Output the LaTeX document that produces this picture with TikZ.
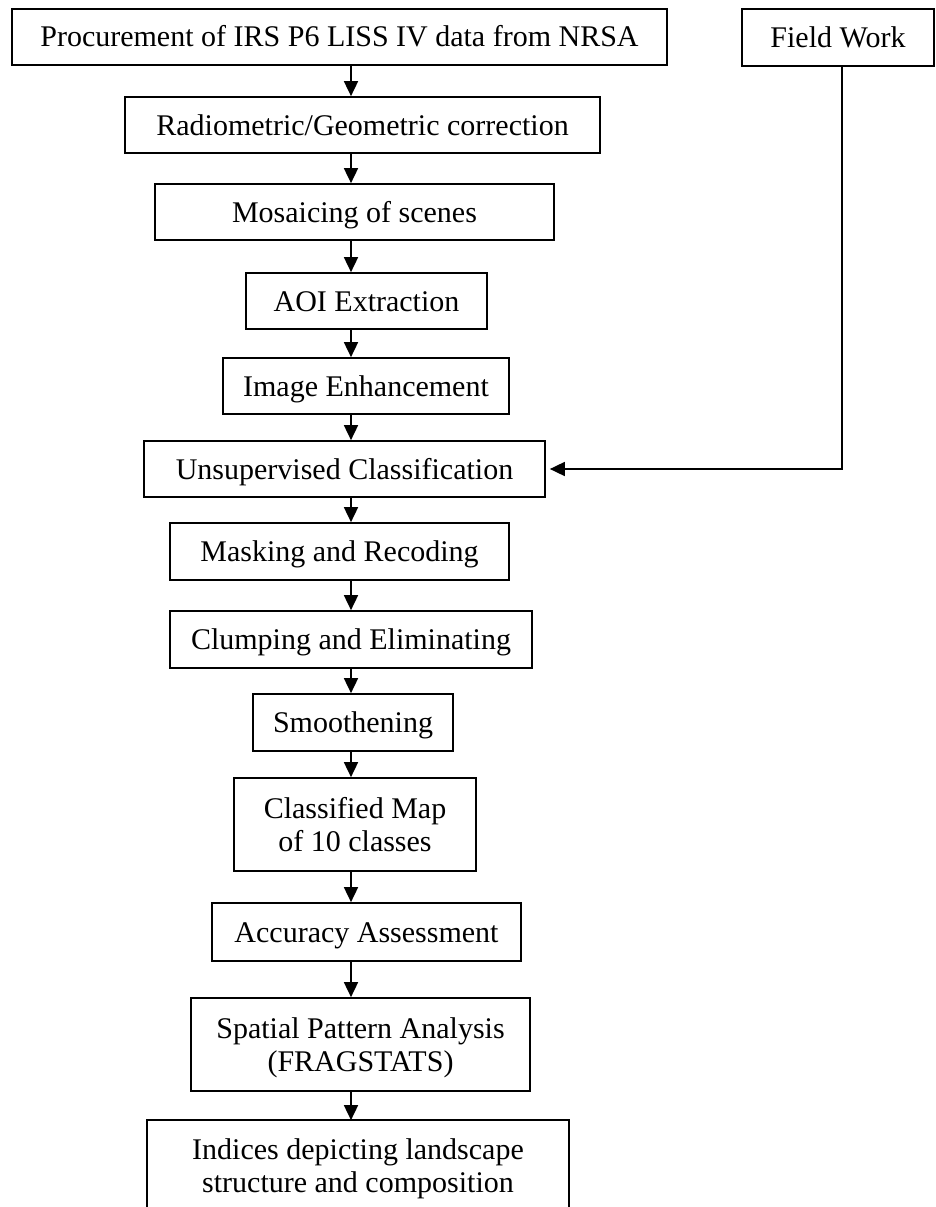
\documentclass[tikz,border=0pt]{standalone}
\usepackage{fontspec}
\setmainfont{Liberation Serif}
\usetikzlibrary{arrows.meta}
\begin{document}
\begin{tikzpicture}[x=1pt,y=-1pt,
  box/.style={draw, line width=1.7pt, inner sep=0pt, align=center, font=\fontsize{30}{33}\selectfont, text depth=0pt, text height=20pt},
  two/.style={text height=53pt},
  arr/.style={line width=1.7pt, -{Triangle[length=15pt,width=14pt]}}]
\useasboundingbox (0,0) rectangle (935,1207);
\node[box, minimum width=655pt, minimum height=56pt] (b1) at (339.5,37) {Procurement of IRS P6 LISS IV data from NRSA};
\node[box, minimum width=192pt, minimum height=57pt] (fw) at (838,37.5) {Field Work};
\node[box, minimum width=475pt, minimum height=56pt] (b2) at (362.5,125) {Radiometric/Geometric correction};
\node[box, minimum width=399pt, minimum height=56pt] (b3) at (354.5,212) {Mosaicing of scenes};
\node[box, minimum width=241pt, minimum height=56pt] (b4) at (366.5,301) {AOI Extraction};
\node[box, minimum width=286pt, minimum height=56pt] (b5) at (366,386) {Image Enhancement};
\node[box, minimum width=401pt, minimum height=56pt] (b6) at (344.5,469) {Unsupervised Classification};
\node[box, minimum width=339pt, minimum height=57pt] (b7) at (339.5,551.5) {Masking and Recoding};
\node[box, minimum width=362pt, minimum height=57pt] (b8) at (351,639.5) {Clumping and Eliminating};
\node[box, minimum width=200pt, minimum height=57pt] (b9) at (353,722.5) {Smoothening};
\node[box, two, minimum width=242pt, minimum height=93pt] (b10) at (355,824.5) {Classified Map\\of 10 classes};
\node[box, minimum width=309pt, minimum height=58pt] (b11) at (366.5,932) {Accuracy Assessment};
\node[box, two, minimum width=339pt, minimum height=93pt] (b12) at (360.5,1044.5) {Spatial Pattern Analysis\\(FRAGSTATS)};
\node[box, two, draw=none, minimum width=420pt, minimum height=90pt] (b13) at (358,1166) {Indices depicting landscape\\structure and composition};
\draw[line width=1.7pt] (b13.south west) -- (b13.north west) -- (b13.north east) -- (b13.south east);
\coordinate (ax) at (351,0);
\foreach \a/\b in {b1/b2,b2/b3,b3/b4,b4/b5,b5/b6,b6/b7,b7/b8,b8/b9,b9/b10,b10/b11,b11/b12,b12/b13}{
  \draw[arr] (\a.south -| ax) -- (\b.north -| ax);
}
\draw[arr, shorten >=4pt] ([xshift=4pt]fw.south) |- (b6.east);
\end{tikzpicture}
\end{document}
